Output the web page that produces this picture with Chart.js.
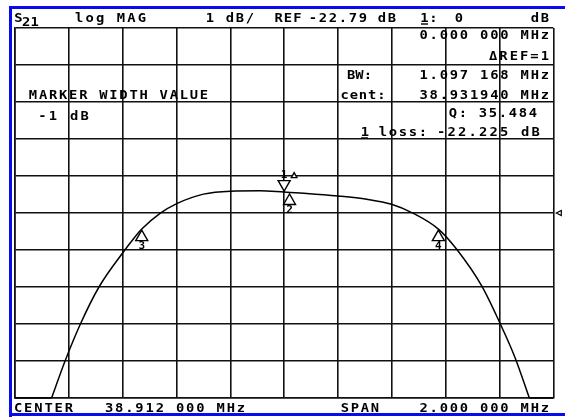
<!DOCTYPE html>
<html>
<head>
<meta charset="utf-8">
<script src="https://cdn.jsdelivr.net/npm/chart.js@4.4.1/dist/chart.umd.min.js"></script>
<style>
  html, body { margin: 0; padding: 0; background: #fff; }
  canvas { display: block; }
</style>
</head>
<body>
<canvas id="vna" width="565" height="417"></canvas>
<script>
/* S21 log MAG screen dump, 1 dB/div, 2 MHz span.
   Trace values. */

const REF_DB = -22.79;

// grid (x in MHz, y in dB) - 10 x 10 divisions
const freqGridMHz = [37.912, 38.112, 38.312, 38.512, 38.712, 38.912, 39.112, 39.312, 39.512, 39.712, 39.912];
const dbGrid = [-27.79, -26.79, -25.79, -24.79, -23.79, -22.79, -21.79, -20.79, -19.79, -18.79, -17.79];

// passband part of the trace
const traceMHz = [38.048, 38.098, 38.155, 38.224, 38.318, 38.351, 38.383, 38.451, 38.515,
                  38.612, 38.712, 38.822, 38.912, 38.996, 39.113, 39.219, 39.311, 39.392,
                  39.485, 39.553, 39.646, 39.714, 39.770, 39.823];
const traceDb  = [-27.79, -26.79, -25.79, -24.79, -23.81, -23.50, -23.225, -22.80, -22.53,
                  -22.28, -22.20, -22.19, -22.225, -22.26, -22.33, -22.42, -22.555, -22.80,
                  -23.225, -23.77, -24.76, -25.77, -26.70, -27.79];
// below the screen: the trace sits clipped on the bottom line
const clipLeftMHz  = [37.912, 38.048];
const clipRightMHz = [39.823, 39.912];
const clipDb = [-27.79, -27.79];

// markers
const markerIds = ["1", "2", "3", "4"];
const markerMHz = [38.912, 38.93194, 38.383, 39.485];
const markerDb  = [-22.225, -22.25, -23.225, -23.225];
const markerDown = [true, false, false, false];

// screen annotations: [text, left, right, baseline]
const screenText = [
  ["log MAG", 74, 147, 21.5],
  ["1 dB/", 205, 255, 21.5],
  ["REF", 274, 302, 21.5],
  ["-22.79", 308, 368, 21.5],
  ["dB", 377, 397, 21.5],
  ["1:", 420, 438, 21.5],
  ["0", 454, 464, 21.5],
  ["dB", 530, 550, 21.5],
  ["0.000 000 MHz", 418.5, 550, 38.5],
  ["\u0394REF=1", 488, 550, 60],
  ["BW:", 347, 372, 78.5],
  ["1.097 168 MHz", 418.5, 550, 78.5],
  ["MARKER WIDTH VALUE", 28, 209, 98.5],
  ["cent:", 340, 386, 98.5],
  ["38.931940 MHz", 418.5, 550, 98.5],
  ["-1 dB", 37, 90, 119.5],
  ["Q: 35.484", 448, 538, 117],
  ["1", 360, 370, 135.5],
  ["loss:", 378, 428, 135.5],
  ["-22.225 dB", 436, 541, 135.5],
  ["CENTER", 13, 74, 412],
  ["38.912 000 MHz", 104, 246, 412],
  ["SPAN", 340, 380, 412],
  ["2.000 000 MHz", 418.5, 550, 412],
];
// underlined marker numbers: [left, right, y]
const underlines = [[421, 428, 24], [361, 368, 138]];

const MONO = "bold 12px 'DejaVu Sans Mono', 'Liberation Mono', monospace";

// draws a string on the instrument's character grid
function spreadText(ctx, str, xL, xR, y) {
  const cell = (xR - xL) / str.length;
  for (let i = 0; i < str.length; i++) {
    const ch = str[i];
    if (ch === " ") continue;
    ctx.save();
    ctx.translate(xL + (i + 0.5) * cell, y);
    ctx.scale(1.15, 1);
    ctx.fillText(ch, 0, 0);
    ctx.restore();
  }
}

function triangle(ctx, x, y, w, h, down) {
  const d = down ? -1 : 1;
  ctx.beginPath();
  ctx.moveTo(x, y);
  ctx.lineTo(x - w, y + d * h);
  ctx.lineTo(x + w, y + d * h);
  ctx.closePath();
  ctx.fillStyle = "#fff";
  ctx.fill();
  ctx.stroke();
}

const screenPlugin = {
  id: "screen",
  afterDraw(chart) {
    const ctx = chart.ctx;
    const xs = chart.scales.x, ys = chart.scales.y;
    const area = chart.chartArea;
    ctx.save();

    // blue bezel
    ctx.fillStyle = "#0a0af0";
    ctx.fillRect(9, 6, 556, 3);
    ctx.fillRect(9, 6, 3, 411);
    ctx.fillRect(9, 413, 556, 3);

    // text
    ctx.fillStyle = "#000";
    ctx.font = MONO;
    ctx.textAlign = "center";
    ctx.textBaseline = "alphabetic";
    spreadText(ctx, "S", 14, 23, 21.5);
    spreadText(ctx, "21", 22, 39, 26);
    screenText.forEach(t => spreadText(ctx, t[0], t[1], t[2], t[3]));
    ctx.strokeStyle = "#000";
    ctx.lineWidth = 1.4;
    underlines.forEach(u => {
      ctx.beginPath();
      ctx.moveTo(u[0], u[2]);
      ctx.lineTo(u[1], u[2]);
      ctx.stroke();
    });

    // markers
    ctx.lineWidth = 1.4;
    ctx.font = "bold 11px 'DejaVu Sans Mono', monospace";
    markerIds.forEach((id, i) => {
      const px = xs.getPixelForValue(markerMHz[i]);
      const py = ys.getPixelForValue(markerDb[i]);
      if (markerDown[i]) {
        triangle(ctx, px, py - 1, 6, 10.5, true);
        ctx.fillStyle = "#000";
        ctx.fillText(id, px, py - 14.5);
        // delta reference flag
        triangle(ctx, px + 10, py - 19.5, 2.8, 5, false);
      } else {
        triangle(ctx, px, py + 1, 6, 10.5, false);
        ctx.fillStyle = "#000";
        ctx.fillText(id, px, py + 19.5);
      }
    });

    // reference position pointer
    const ry = ys.getPixelForValue(REF_DB);
    ctx.lineWidth = 1.2;
    ctx.beginPath();
    ctx.moveTo(area.right + 3, ry);
    ctx.lineTo(area.right + 8, ry - 2.5);
    ctx.lineTo(area.right + 8, ry + 2.5);
    ctx.closePath();
    ctx.stroke();

    ctx.restore();
  }
};

const gridStyle = { color: "#111", lineWidth: 1.6, drawTicks: false };
const traceStyle = { borderColor: "#000", borderWidth: 1.5, pointRadius: 0, clip: 4 };
const xy = (xsArr, ysArr) => xsArr.map((f, i) => ({ x: f, y: ysArr[i] }));

new Chart(document.getElementById("vna"), {
  type: "line",
  data: {
    datasets: [
      { ...traceStyle, data: xy(traceMHz, traceDb), cubicInterpolationMode: "monotone" },
      { ...traceStyle, data: xy(clipLeftMHz, clipDb) },
      { ...traceStyle, data: xy(clipRightMHz, clipDb) },
    ],
  },
  options: {
    responsive: false,
    animation: false,
    events: [],
    layout: { padding: { left: 15, top: 28, right: 11.7, bottom: 19 } },
    plugins: { legend: { display: false }, tooltip: { enabled: false } },
    scales: {
      x: {
        type: "linear",
        min: freqGridMHz[0],
        max: freqGridMHz[freqGridMHz.length - 1],
        afterBuildTicks: s => { s.ticks = freqGridMHz.map(v => ({ value: v })); },
        ticks: { display: false },
        grid: gridStyle,
        border: { color: "#111", width: 1.6 },
      },
      y: {
        min: dbGrid[0],
        max: dbGrid[dbGrid.length - 1],
        afterBuildTicks: s => { s.ticks = dbGrid.map(v => ({ value: v })); },
        ticks: { display: false },
        grid: gridStyle,
        border: { color: "#111", width: 1.6 },
      },
    },
  },
  plugins: [screenPlugin],
});
</script>
</body>
</html>
